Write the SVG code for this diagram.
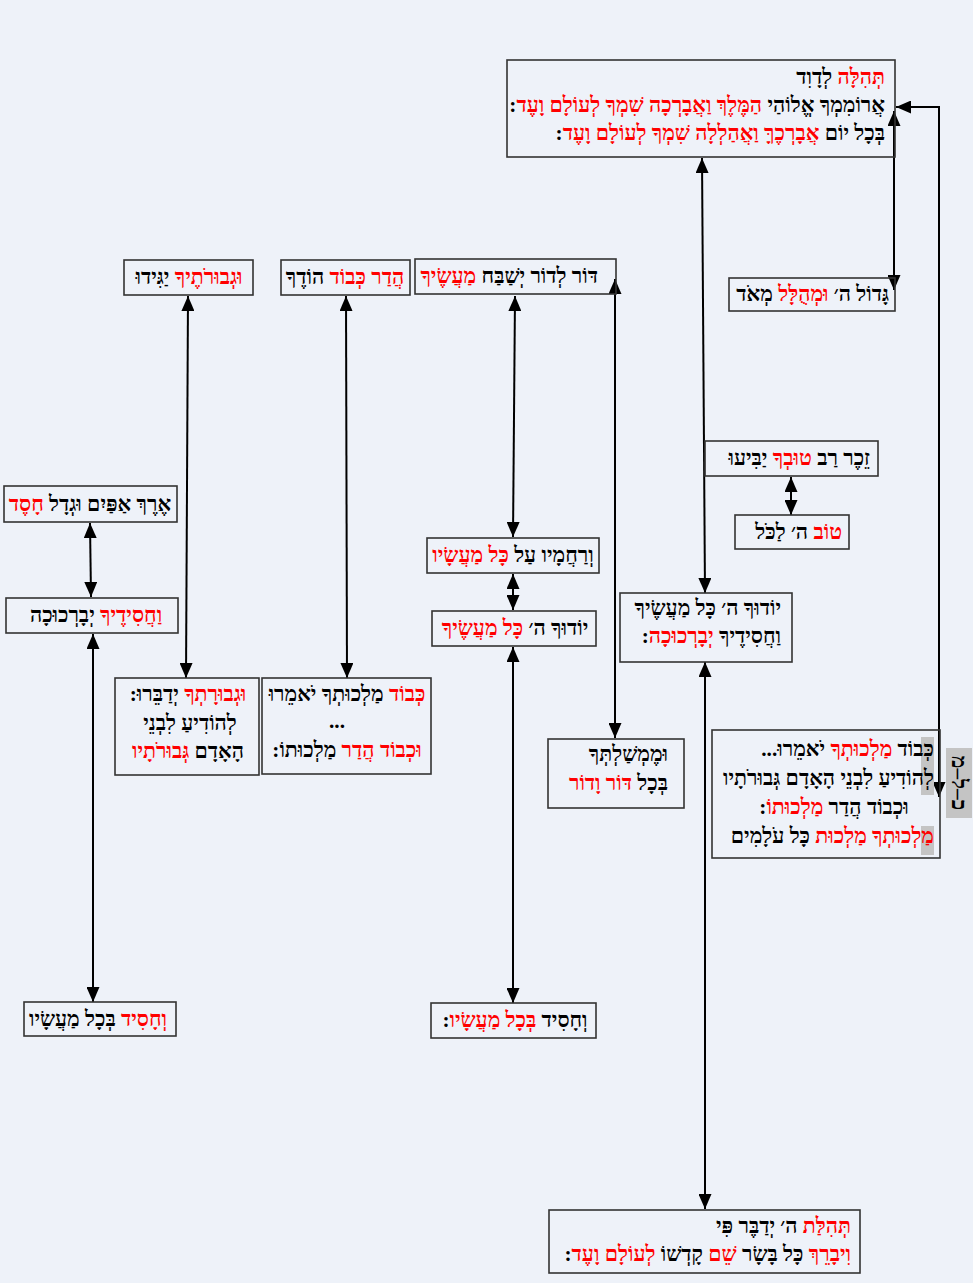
<svg xmlns="http://www.w3.org/2000/svg" width="978" height="1283" viewBox="0 0 978 1283">
<style>
.bg{fill:#EEF2F9}
.box{fill:none;stroke:#333;stroke-width:1.6}
.t{font-family:"Liberation Serif","DejaVu Serif",serif;font-size:21.3px;fill:#000;font-weight:bold}
.rtl{direction:rtl;text-anchor:start}
.mid{direction:rtl;text-anchor:middle}
.r{fill:#FF0000}
.c{fill:none;stroke:#000;stroke-width:2}
.hl{fill:#C4C4C4}
</style>
<defs>
<marker id="ah" viewBox="0 0 15 13" refX="15" refY="6.5" markerWidth="15" markerHeight="13" markerUnits="userSpaceOnUse" orient="auto-start-reverse">
<path d="M0,0 L15,6.5 L0,13 z" fill="#000"/>
</marker>
</defs>
<rect class="bg" x="0" y="0" width="978" height="1283"/>
<rect x="973" y="0" width="5" height="1283" fill="#fff"/>

<g id="connectors">
<line class="c" x1="894" y1="111" x2="894" y2="290" marker-start="url(#ah)" marker-end="url(#ah)"/>
<path class="c" d="M939,797 L939,107 L896,107" marker-start="url(#ah)" marker-end="url(#ah)"/>
<line class="c" x1="702" y1="158" x2="705" y2="593" marker-start="url(#ah)" marker-end="url(#ah)"/>
<line class="c" x1="705" y1="662" x2="705" y2="1209" marker-start="url(#ah)" marker-end="url(#ah)"/>
<line class="c" x1="615" y1="279" x2="615" y2="738" marker-start="url(#ah)" marker-end="url(#ah)"/>
<line class="c" x1="515" y1="296" x2="513" y2="537" marker-start="url(#ah)" marker-end="url(#ah)"/>
<line class="c" x1="513" y1="574" x2="513" y2="610" marker-start="url(#ah)" marker-end="url(#ah)"/>
<line class="c" x1="791" y1="477" x2="791" y2="515" marker-start="url(#ah)" marker-end="url(#ah)"/>
<line class="c" x1="90" y1="523" x2="91" y2="597" marker-start="url(#ah)" marker-end="url(#ah)"/>
<line class="c" x1="93" y1="634" x2="93" y2="1002" marker-start="url(#ah)" marker-end="url(#ah)"/>
<line class="c" x1="188" y1="296" x2="186" y2="678" marker-start="url(#ah)" marker-end="url(#ah)"/>
<line class="c" x1="346" y1="296" x2="347" y2="678" marker-start="url(#ah)" marker-end="url(#ah)"/>
<line class="c" x1="513" y1="647" x2="513" y2="1003" marker-start="url(#ah)" marker-end="url(#ah)"/>
</g>

<g id="n-top">
<rect class="box" x="507" y="60" width="388" height="97"/>
<text class="t rtl" x="885" y="84"><tspan class="r">תְּהִלָּה</tspan> לְדָוִד</text>
<text class="t rtl" x="885" y="112">אֲרוֹמִמְךָ אֱלוֹהַי <tspan class="r">הַמֶּלֶךְ וַאֲבָרְכָה שִׁמְךָ לְעוֹלָם וָעֶד</tspan>:</text>
<text class="t rtl" x="885" y="140">בְּכָל יוֹם <tspan class="r">אֲבָרְכֶךָּ וַאֲהַלְלָה שִׁמְךָ לְעוֹלָם וָעֶד</tspan>:</text>
</g>

<g id="n-gadol">
<rect class="box" x="729" y="278" width="166" height="33"/>
<text class="t rtl" x="889" y="301">גָּדוֹל ה׳ <tspan class="r">וּמְהֻלָּל</tspan> מְאֹד</text>
</g>

<g id="n-dor">
<rect class="box" x="415" y="259" width="201" height="35"/>
<text class="t rtl" x="598" y="283">דּוֹר לְדוֹר יְשַׁבַּח <tspan class="r">מַעֲשֶׂיךָ</tspan></text>
</g>

<g id="n-hadar">
<rect class="box" x="281" y="260" width="129" height="35"/>
<text class="t mid" x="345" y="284"><tspan class="r">הֲדַר כְּבוֹד</tspan> הוֹדֶךָ</text>
</g>

<g id="n-gevurotecha">
<rect class="box" x="124" y="260" width="129" height="35"/>
<text class="t mid" x="189" y="284"><tspan class="r">וּגְבוּרֹתֶיךָ</tspan> יַגִּידוּ</text>
</g>

<g id="n-zecher">
<rect class="box" x="705" y="441" width="173" height="35"/>
<text class="t rtl" x="870" y="465">זֵכֶר רַב <tspan class="r">טוּבְךָ</tspan> יַבִּיעוּ</text>
</g>

<g id="n-tov">
<rect class="box" x="735" y="515" width="114" height="34"/>
<text class="t rtl" x="842" y="539"><tspan class="r">טוֹב</tspan> ה׳ לַכֹּל</text>
</g>

<g id="n-erech">
<rect class="box" x="4" y="486" width="173" height="36"/>
<text class="t mid" x="90" y="511">אֶרֶךְ אַפַּיִם וּגְדָל <tspan class="r">חָסֶד</tspan></text>
</g>

<g id="n-chasidecha">
<rect class="box" x="6" y="598" width="172" height="35"/>
<text class="t mid" x="96" y="622"><tspan class="r">וַחֲסִידֶיךָ</tspan> יְבָרְכוּכָה</text>
</g>

<g id="n-rachamav">
<rect class="box" x="427" y="538" width="172" height="35"/>
<text class="t mid" x="513" y="562">וְרַחֲמָיו עַל <tspan class="r">כָּל מַעֲשָׂיו</tspan></text>
</g>

<g id="n-yoducha1">
<rect class="box" x="432" y="611" width="164" height="35"/>
<text class="t mid" x="515" y="635">יוֹדוּךָ ה׳ <tspan class="r">כָּל מַעֲשֶׂיךָ</tspan></text>
</g>

<g id="n-yoducha2">
<rect class="box" x="620" y="593" width="172" height="69"/>
<text class="t rtl" x="781" y="615">יוֹדוּךָ ה׳ כָּל מַעֲשֶׂיךָ</text>
<text class="t rtl" x="781" y="643">וַחֲסִידֶיךָ <tspan class="r">יְבָרְכוּכָה</tspan>:</text>
</g>

<g id="n-gevuratcha">
<rect class="box" x="115" y="678" width="144" height="97"/>
<text class="t mid" x="188" y="701"><tspan class="r">וּגְבוּרָתְךָ</tspan> יְדַבֵּרוּ:</text>
<text class="t mid" x="190" y="730">לְהוֹדִיעַ לִבְנֵי</text>
<text class="t mid" x="188" y="758">הָאָדָם <tspan class="r">גְּבוּרֹתָיו</tspan></text>
</g>

<g id="n-kevod">
<rect class="box" x="262" y="678" width="169" height="96"/>
<text class="t mid" x="347" y="701"><tspan class="r">כְּבוֹד</tspan> מַלְכוּתְךָ יֹאמֵרוּ</text>
<text class="t mid" x="337" y="728">...</text>
<text class="t mid" x="347" y="757"><tspan class="r">וּכְבוֹד הֲדַר</tspan> מַלְכוּתוֹ:</text>
</g>

<g id="n-memshalt">
<rect class="box" x="548" y="739" width="136" height="69"/>
<text class="t rtl" x="668" y="761">וּמֶמְשַׁלְתְּךָ</text>
<text class="t rtl" x="668" y="790">בְּכָל <tspan class="r">דּוֹר וָדוֹר</tspan></text>
</g>

<g id="n-malchut">
<rect class="box" x="712" y="730" width="228" height="128"/>
<rect class="hl" x="921" y="737" width="13" height="58"/>
<rect class="hl" x="921" y="826" width="13" height="29"/>
<text class="t rtl" x="934" y="756">כְּבוֹד <tspan class="r">מַלְכוּתְךָ</tspan> יֹאמֵרוּ...</text>
<text class="t rtl" x="934" y="785">לְהוֹדִיעַ לִבְנֵי הָאָדָם גְּבוּרֹתָיו</text>
<text class="t mid" x="834" y="814">וּכְבוֹד הֲדַר <tspan class="r">מַלְכוּתוֹ</tspan>:</text>
<text class="t rtl" x="934" y="843"><tspan class="r">מַלְכוּתְךָ מַלְכוּת</tspan> כָּל עֹלָמִים</text>
</g>

<g id="n-klm">
<rect class="hl" x="946" y="748" width="26" height="70"/>
<text class="t mid" x="959" y="783" dominant-baseline="central" transform="rotate(90 959 783)">כ–ל–מ</text>
</g>

<g id="n-chasid1">
<rect class="box" x="24" y="1002" width="152" height="34"/>
<text class="t mid" x="98" y="1026"><tspan class="r">וְחָסִיד</tspan> בְּכָל מַעֲשָׂיו</text>
</g>

<g id="n-chasid2">
<rect class="box" x="431" y="1003" width="165" height="35"/>
<text class="t mid" x="515" y="1027">וְחָסִיד <tspan class="r">בְּכָל מַעֲשָׂיו</tspan>:</text>
</g>

<g id="n-bottom">
<rect class="box" x="549" y="1210" width="311" height="63"/>
<text class="t rtl" x="851" y="1233"><tspan class="r">תְּהִלַּת</tspan> ה׳ יְדַבֶּר פִּי</text>
<text class="t rtl" x="851" y="1261"><tspan class="r">וִיבָרֵךְ</tspan> כָּל בָּשָׂר <tspan class="r">שֵׁם</tspan> קָדְשׁוֹ <tspan class="r">לְעוֹלָם וָעֶד</tspan>:</text>
</g>
</svg>
